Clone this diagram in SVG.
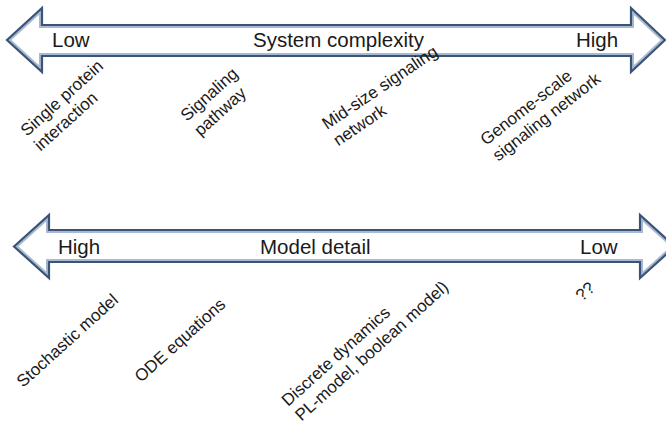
<svg xmlns="http://www.w3.org/2000/svg" width="666" height="424" viewBox="0 0 666 424">
  <style>
    .band { fill: none; stroke: #a9bad0; stroke-width: 6; stroke-linejoin: miter; }
    .edge { fill: none; stroke: #3a5377; stroke-width: 2.2; stroke-linejoin: miter; }
    .axis-label { font-family: "Liberation Sans", Arial, sans-serif; font-size: 20.5px; fill: #1a1a1a; }
    .item { font-family: "Liberation Sans", Arial, sans-serif; font-size: 17px; fill: #1a1a1a; }
  </style>
  <defs>
    <!-- double-headed block arrows -->
    <path id="arrow-top" d="M7,40 L42,8 L42,25 L631,25 L631,8 L665,40 L631,72 L631,56 L42,56 L42,72 Z"/>
    <path id="arrow-bottom" d="M14,246.5 L49,215 L49,230 L640,230 L640,215 L675,246.5 L640,278 L640,262 L49,262 L49,278 Z"/>
    <clipPath id="clip-top"><use href="#arrow-top"/></clipPath>
    <clipPath id="clip-bottom"><use href="#arrow-bottom"/></clipPath>
  </defs>

  <rect width="666" height="424" fill="#ffffff"/>

  <!-- system complexity axis -->
  <g id="axis-complexity">
    <use href="#arrow-top" fill="#ffffff"/>
    <use href="#arrow-top" class="band" clip-path="url(#clip-top)"/>
    <use href="#arrow-top" class="edge"/>
    <text class="axis-label" x="52" y="47">Low</text>
    <text class="axis-label" x="253" y="47">System complexity</text>
    <text class="axis-label" x="576" y="47">High</text>
  </g>

  <!-- model detail axis -->
  <g id="axis-detail">
    <use href="#arrow-bottom" fill="#ffffff"/>
    <use href="#arrow-bottom" class="band" clip-path="url(#clip-bottom)"/>
    <use href="#arrow-bottom" class="edge"/>
    <text class="axis-label" x="58" y="254">High</text>
    <text class="axis-label" x="260" y="254">Model detail</text>
    <text class="axis-label" x="580" y="254">Low</text>
  </g>

  <!-- system scale categories -->
  <g id="single-protein">
    <text class="item" transform="translate(27,137) rotate(-42)"><tspan x="0" y="0">Single protein</tspan><tspan x="0" dy="20">interaction</tspan></text>
  </g>
  <g id="signaling-pathway">
    <text class="item" transform="translate(187,122) rotate(-42)"><tspan x="0" y="0">Signaling</tspan><tspan x="0" dy="20">pathway</tspan></text>
  </g>
  <g id="mid-size-network">
    <text class="item" transform="translate(327,130) rotate(-34)"><tspan x="0" y="0">Mid-size signaling</tspan><tspan x="0" dy="20">network</tspan></text>
  </g>
  <g id="genome-scale-network">
    <text class="item" transform="translate(486,146) rotate(-38)"><tspan x="0" y="0">Genome-scale</tspan><tspan x="0" dy="20">signaling network</tspan></text>
  </g>

  <!-- model types -->
  <g id="stochastic-model">
    <text class="item" transform="translate(23,388) rotate(-42)">Stochastic model</text>
  </g>
  <g id="ode-equations">
    <text class="item" transform="translate(141,383) rotate(-42)">ODE equations</text>
  </g>
  <g id="discrete-dynamics">
    <text class="item" transform="translate(288,407) rotate(-42)"><tspan x="0" y="0">Discrete dynamics</tspan><tspan x="0" dy="20">PL-model, boolean model)</tspan></text>
  </g>
  <g id="unknown-model">
    <text class="item" transform="translate(582,302) rotate(-42)">??</text>
  </g>
</svg>
